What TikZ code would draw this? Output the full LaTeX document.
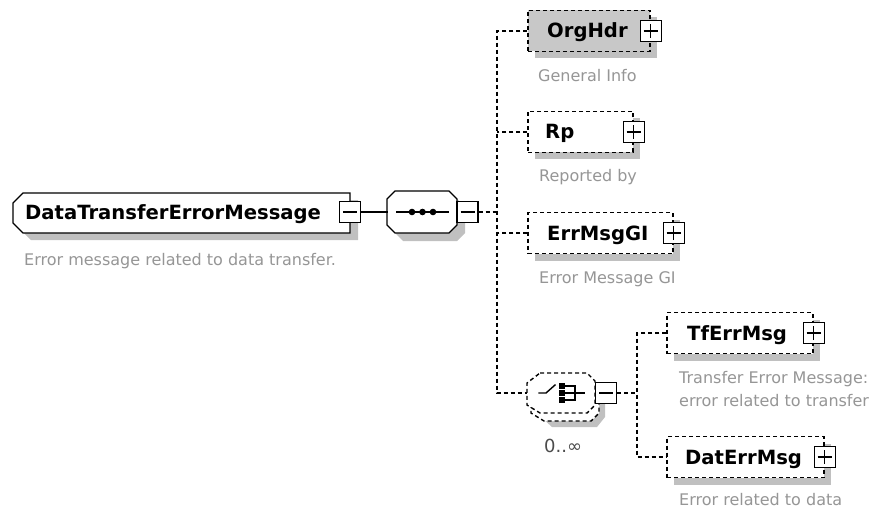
\documentclass[tikz,border=0pt]{standalone}
\usepackage{fontspec}
\setmainfont{DejaVu Sans}
\usetikzlibrary{shadows}
\definecolor{boxgray}{RGB}{200,200,200}
\definecolor{shadowgray}{RGB}{192,192,192}
\definecolor{descgray}{RGB}{150,150,150}
\tikzset{
  ln/.style={line width=1.4pt, line cap=rect},
  conn/.style={line width=1.4pt, dash pattern=on 4pt off 3pt},
  elem/.style={draw, line width=1.4pt, dash pattern=on 4pt off 3pt, fill=white,
     minimum height=41pt, inner sep=0pt,
     general shadow={fill=shadowgray, shadow xshift=7pt, shadow yshift=-7pt}},
  nm/.style={font=\fontsize{19.6}{22}\selectfont\bfseries, inner sep=0pt, anchor=base west},
  desc/.style={font=\fontsize{16}{24}\selectfont, text=descgray, inner sep=0pt, anchor=base west},
  pbox/.style={draw, fill=white, line width=1.4pt, minimum size=21pt, inner sep=0pt,
     path picture={\draw[line width=1.4pt]
       ([xshift=-7pt]path picture bounding box.center) -- ([xshift=7pt]path picture bounding box.center)
       ([yshift=-7pt]path picture bounding box.center) -- ([yshift=7pt]path picture bounding box.center);}},
  mbox/.style={draw, fill=white, line width=1.4pt, minimum size=21pt, inner sep=0pt,
     path picture={\draw[line width=1.4pt]
       ([xshift=-7pt]path picture bounding box.center) -- ([xshift=7pt]path picture bounding box.center);}},
  hidden/.style={inner sep=0pt, minimum width=#1, minimum height=40pt}
}
\begin{document}
\begin{tikzpicture}[x=1pt,y=-1pt]
\useasboundingbox[fill=white] (0,0) rectangle (877,513);

% ---------- main element ----------
\fill[shadowgray] (31,200) -- (358,200) -- (358,240) -- (31,240) -- (21,230) -- (21,210) -- cycle;
\draw[ln, fill=white, line join=miter] (23,193) -- (350,193) -- (350,233) -- (23,233) -- (13,223) -- (13,203) -- cycle;
\node[hidden=337pt] (main) at (181.5,213) {};
\node[nm] (mainL) at (25,219.5) {DataTransferErrorMessage};
\node[mbox] (mainm) at (350,212) {};
\node[desc] (mainD) at (24,265) {Error message related to data transfer.};

% ---------- sequence compositor ----------
\fill[shadowgray] (403,199) -- (457,199) -- (465,207) -- (465,233) -- (457,241) -- (403,241) -- (395,233) -- (395,207) -- cycle;
\draw[ln, fill=white] (395,191) -- (449,191) -- (457,199) -- (457,225) -- (449,233) -- (395,233) -- (387,225) -- (387,199) -- cycle;
\node[hidden=70pt] (seq) at (422,212) {};
\draw[ln] (397,212) -- (448,212);
\foreach \dx in {412,422.5,433} \fill (\dx,212) circle (3.3);
\node[mbox] (seqm) at (467.5,212) {};
\draw[ln] (mainm.east) -- (seq.west);

% ---------- children of sequence ----------
\node[elem, fill=boxgray, minimum width=122pt] (orghdr) at (589,31) {};
\node[nm] (orghdrL) at (547,38) {OrgHdr};
\node[pbox] (orghdrP) at (orghdr.east) {};
\node[desc] (orghdrD) at (538,82) {General Info};

\node[elem, minimum width=105pt] (rp) at (580.5,132) {};
\node[nm] (rpL) at (545,139) {Rp};
\node[pbox] (rpP) at (rp.east) {};
\node[desc] (rpD) at (539,182) {Reported by};

\node[elem, minimum width=145pt] (errmsg) at (600.5,233) {};
\node[nm] (errmsgL) at (547,240) {ErrMsgGI};
\node[pbox] (errmsgP) at (errmsg.east) {};
\node[desc] (errmsgD) at (539,283) {Error Message GI};

% ---------- choice compositor ----------
\fill[shadowgray] (552,385) -- (597,385) -- (605,393) -- (605,417) -- (597,427) -- (552,427) -- (541,417) -- (541,395) -- cycle;
\draw[conn, fill=white] (544,381) -- (591,381) -- (599,389) -- (599,413) -- (591,421) -- (544,421) -- (531,413) -- (531,391) -- cycle;
\draw[conn, fill=white] (540,373) -- (587,373) -- (595,381) -- (595,405) -- (587,413) -- (540,413) -- (527,405) -- (527,383) -- cycle;
\node[hidden=68pt] (choice) at (561,393) {};
\draw[ln] (539,393) -- (546,393) -- (555,385);
\foreach \dy in {386,393,400} {\fill (559,\dy-3) rectangle (565,\dy+3); \draw[ln] (565,\dy) -- (575,\dy);}
\draw[ln] (575,386) -- (575,400) (575,393) -- (584,393);
\node[mbox] (choicem) at (606,393) {};
\node[desc, font=\fontsize{18}{20}\selectfont, text=black!70] (mult) at (544,452) {0..∞};

% ---------- children of choice ----------
\node[elem, minimum width=146pt] (tferr) at (740,333) {};
\node[nm] (tferrL) at (687,340) {TfErrMsg};
\node[pbox] (tferrP) at (tferr.east) {};
\node[desc] (tferrD) at (679,383) {Transfer Error Message:};
\node[desc] (tferrD2) at (679,406) {error related to transfer};

\node[elem, minimum width=157pt] (daterr) at (745.5,457) {};
\node[nm] (daterrL) at (685,464) {DatErrMsg};
\node[pbox] (daterrP) at (daterr.east) {};
\node[desc] (daterrD) at (679,505) {Error related to data};

% ---------- connectors ----------
\coordinate (tr) at (497,212);
\coordinate (str) at (637,393);
\draw[conn] (seqm.east) -- (tr);
\draw[conn] (orghdr.west) -| (tr |- choice.west) -- (choice.west);
\draw[conn] (rp.west) -- (rp.west -| tr);
\draw[conn] (errmsg.west) -- (errmsg.west -| tr);
\draw[conn] (choicem.east) -- (str);
\draw[conn] (tferr.west) -| (str |- daterr.west) -- (daterr.west);
\end{tikzpicture}
\end{document}
